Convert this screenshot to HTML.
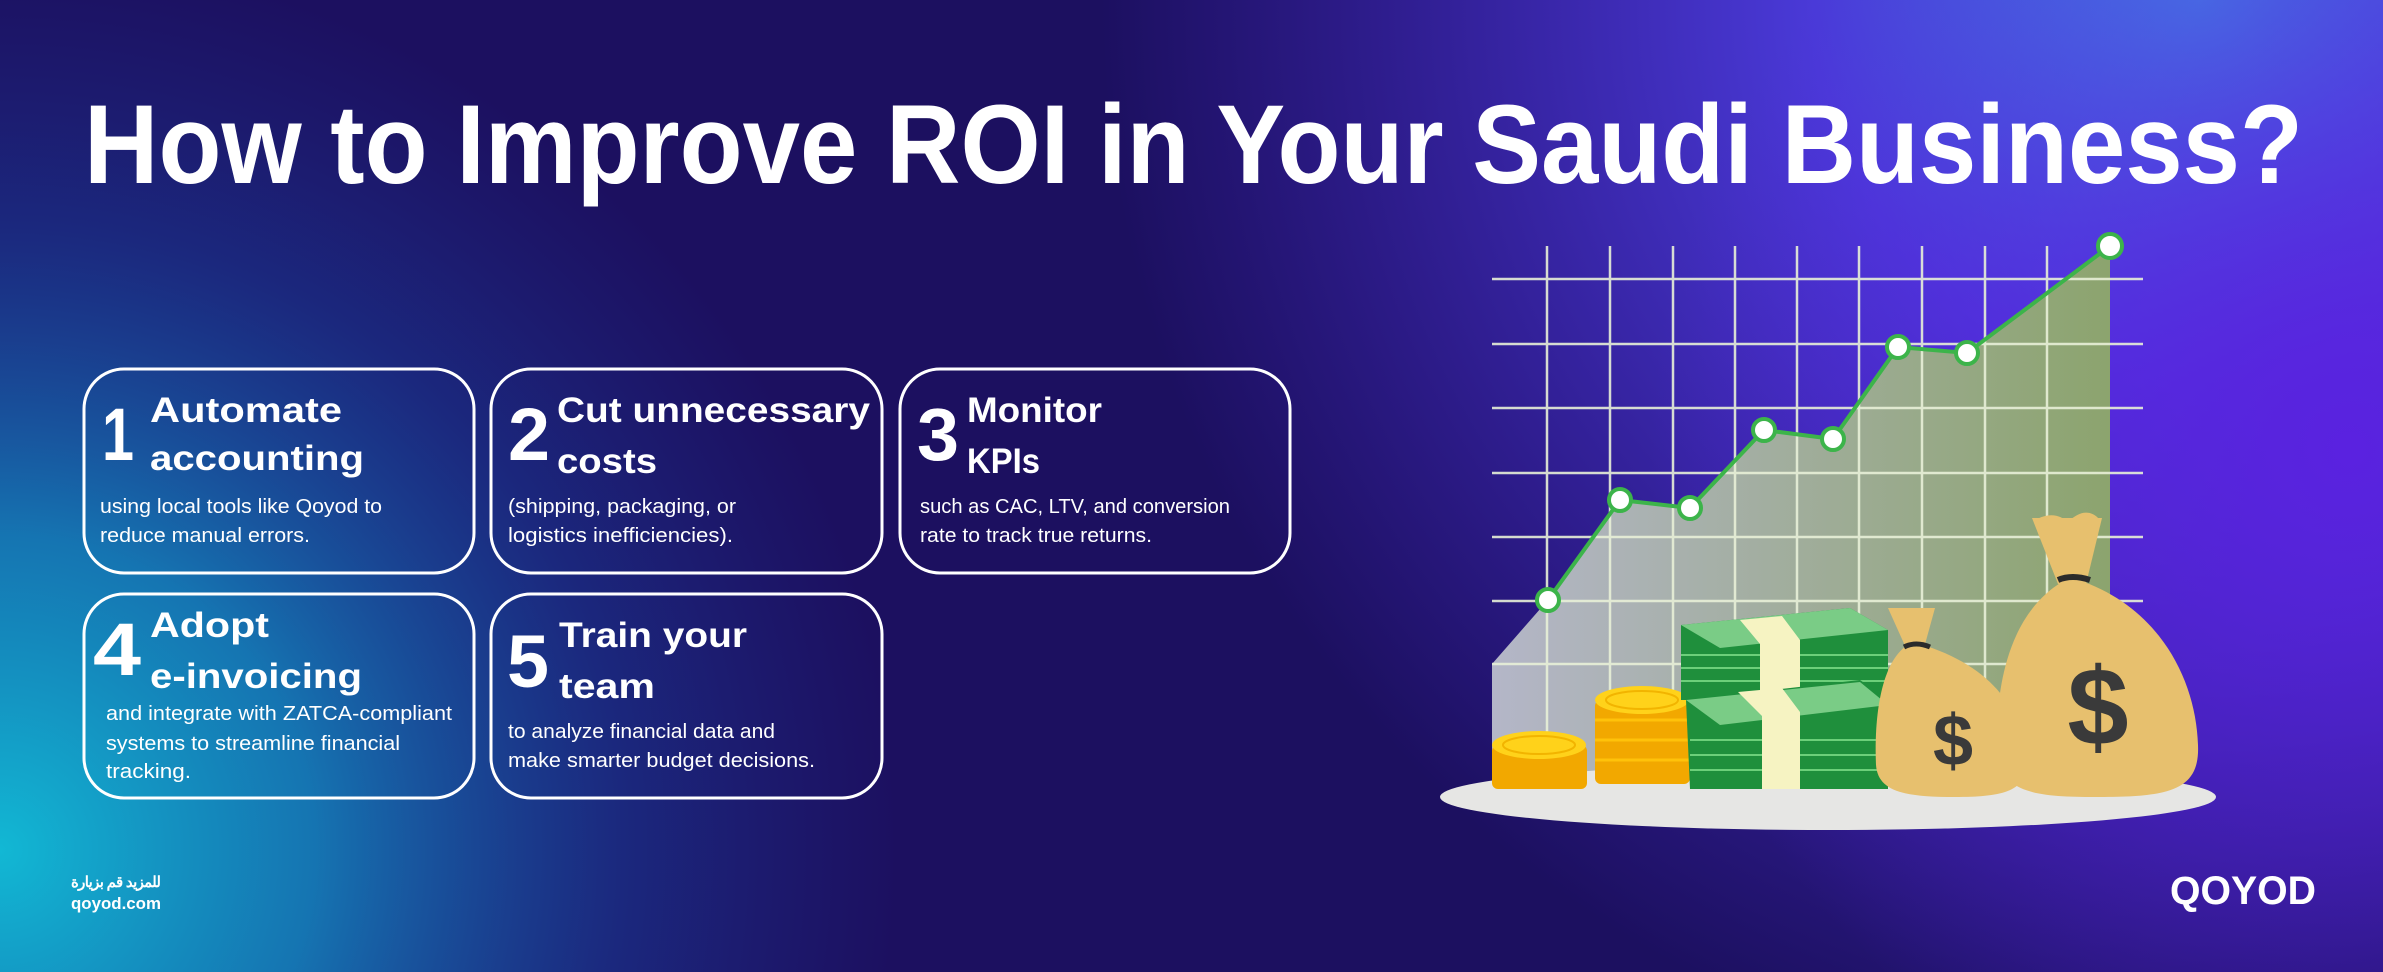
<!DOCTYPE html>
<html><head><meta charset="utf-8"><style>
html,body{margin:0;padding:0;width:2383px;height:972px;overflow:hidden;background:#1a0f5c}
svg{display:block}
</style></head><body>
<svg width="2383" height="972" viewBox="0 0 2383 972" xmlns="http://www.w3.org/2000/svg">
<defs>
<radialGradient id="g1" cx="2200" cy="0" r="1100" gradientUnits="userSpaceOnUse">
<stop offset="0" stop-color="#3f86e4"/><stop offset="0.35" stop-color="#4a3ad8"/><stop offset="1" stop-color="#4a2ad0" stop-opacity="0"/></radialGradient>
<radialGradient id="g2" cx="2350" cy="450" r="700" gradientUnits="userSpaceOnUse">
<stop offset="0" stop-color="#5a22e0"/><stop offset="1" stop-color="#5a22e0" stop-opacity="0"/></radialGradient>
<radialGradient id="g3" cx="0" cy="850" r="900" gradientUnits="userSpaceOnUse">
<stop offset="0" stop-color="#12b8d4"/><stop offset="0.35" stop-color="#1486c0" stop-opacity="0.85"/><stop offset="0.7" stop-color="#1a4aa8" stop-opacity="0.4"/><stop offset="1" stop-color="#1a3aa0" stop-opacity="0"/></radialGradient>
<linearGradient id="fillg" x1="0" x2="1" y1="0" y2="0"><stop offset="0" stop-color="#b4b6c8"/><stop offset="1" stop-color="#8ca46e"/></linearGradient>
</defs>
<rect width="2383" height="972" fill="#1c1060"/>
<rect width="2383" height="972" fill="url(#g1)"/>
<rect width="2383" height="972" fill="url(#g2)"/>
<rect width="2383" height="972" fill="url(#g3)"/>

<g font-family="Liberation Sans, sans-serif" fill="#fff">
<text x="84" y="183" font-size="112" font-weight="bold" textLength="2219" lengthAdjust="spacingAndGlyphs">How to Improve ROI in Your Saudi Business?</text>

<g fill="none" stroke="#fff" stroke-width="3">
<rect x="84" y="369" width="390" height="204" rx="40"/>
<rect x="491" y="369" width="391" height="204" rx="40"/>
<rect x="900" y="369" width="390" height="204" rx="40"/>
<rect x="84" y="594" width="390" height="204" rx="40"/>
<rect x="491" y="594" width="391" height="204" rx="40"/>
</g>

<g font-weight="bold" font-size="74">
<text x="102" y="460" textLength="32" lengthAdjust="spacingAndGlyphs">1</text>
<text x="508" y="460" textLength="42" lengthAdjust="spacingAndGlyphs">2</text>
<text x="917" y="460" textLength="42" lengthAdjust="spacingAndGlyphs">3</text>
<text x="93" y="675" textLength="48" lengthAdjust="spacingAndGlyphs">4</text>
<text x="507" y="687" textLength="42" lengthAdjust="spacingAndGlyphs">5</text>
</g>
<g font-weight="bold" font-size="35">
<text x="150" y="422" textLength="192" lengthAdjust="spacingAndGlyphs">Automate</text>
<text x="150" y="470" textLength="214" lengthAdjust="spacingAndGlyphs">accounting</text>
<text x="557" y="422" textLength="313" lengthAdjust="spacingAndGlyphs">Cut unnecessary</text>
<text x="557" y="473" textLength="100" lengthAdjust="spacingAndGlyphs">costs</text>
<text x="967" y="422" textLength="135" lengthAdjust="spacingAndGlyphs">Monitor</text>
<text x="967" y="473" textLength="73" lengthAdjust="spacingAndGlyphs">KPIs</text>
<text x="150" y="637" textLength="119" lengthAdjust="spacingAndGlyphs">Adopt</text>
<text x="150" y="688" textLength="212" lengthAdjust="spacingAndGlyphs">e-invoicing</text>
<text x="559" y="647" textLength="188" lengthAdjust="spacingAndGlyphs">Train your</text>
<text x="559" y="698" textLength="96" lengthAdjust="spacingAndGlyphs">team</text>
</g>
<g font-size="20">
<text x="100" y="513" textLength="282" lengthAdjust="spacingAndGlyphs">using local tools like Qoyod to</text>
<text x="100" y="542" textLength="210" lengthAdjust="spacingAndGlyphs">reduce manual errors.</text>
<text x="508" y="513" textLength="228" lengthAdjust="spacingAndGlyphs">(shipping, packaging, or</text>
<text x="508" y="542" textLength="225" lengthAdjust="spacingAndGlyphs">logistics inefficiencies).</text>
<text x="920" y="513" textLength="310" lengthAdjust="spacingAndGlyphs">such as CAC, LTV, and conversion</text>
<text x="920" y="542" textLength="232" lengthAdjust="spacingAndGlyphs">rate to track true returns.</text>
<text x="106" y="720" textLength="346" lengthAdjust="spacingAndGlyphs">and integrate with ZATCA-compliant</text>
<text x="106" y="750" textLength="294" lengthAdjust="spacingAndGlyphs">systems to streamline financial</text>
<text x="106" y="778" textLength="85" lengthAdjust="spacingAndGlyphs">tracking.</text>
<text x="508" y="738" textLength="267" lengthAdjust="spacingAndGlyphs">to analyze financial data and</text>
<text x="508" y="767" textLength="307" lengthAdjust="spacingAndGlyphs">make smarter budget decisions.</text>
</g>
<text x="71" y="887" font-size="15" font-weight="bold" font-family="Liberation Sans, Noto Sans CJK SC, sans-serif" direction="rtl" text-anchor="end" textLength="90">للمزيد قم بزيارة</text>
<text x="71" y="909" font-size="17" font-weight="bold" textLength="90" lengthAdjust="spacingAndGlyphs">qoyod.com</text>
<text x="2170" y="904" font-size="40" font-weight="bold" textLength="146" lengthAdjust="spacingAndGlyphs">QOYOD</text>
</g>

<!-- chart -->
<polygon points="1492,664 1548,600 1620,500 1690,508 1764,430 1833,439 1898,347 1967,353 2110,246 2110,780 1492,780" fill="url(#fillg)"/>
<g stroke="#e8f0d8" stroke-width="2.5" opacity="0.9">
<line x1="1492" y1="279" x2="2143" y2="279"/><line x1="1492" y1="344" x2="2143" y2="344"/>
<line x1="1492" y1="408" x2="2143" y2="408"/><line x1="1492" y1="473" x2="2143" y2="473"/>
<line x1="1492" y1="537" x2="2143" y2="537"/><line x1="1492" y1="601" x2="2143" y2="601"/>
<line x1="1492" y1="664" x2="2110" y2="664"/>
<line x1="1547" y1="246" x2="1547" y2="780"/><line x1="1610" y1="246" x2="1610" y2="780"/>
<line x1="1673" y1="246" x2="1673" y2="780"/><line x1="1735" y1="246" x2="1735" y2="780"/>
<line x1="1797" y1="246" x2="1797" y2="780"/><line x1="1859" y1="246" x2="1859" y2="780"/>
<line x1="1922" y1="246" x2="1922" y2="780"/><line x1="1985" y1="246" x2="1985" y2="780"/>
<line x1="2047" y1="246" x2="2047" y2="780"/>
</g>
<polyline points="1548,600 1620,500 1690,508 1764,430 1833,439 1898,347 1967,353 2110,246" fill="none" stroke="#3cb44a" stroke-width="4"/>
<g fill="#fff" stroke="#3cb44a" stroke-width="4">
<circle cx="1548" cy="600" r="11"/><circle cx="1620" cy="500" r="11"/><circle cx="1690" cy="508" r="11"/>
<circle cx="1764" cy="430" r="11"/><circle cx="1833" cy="439" r="11"/><circle cx="1898" cy="347" r="11"/>
<circle cx="1967" cy="353" r="11"/><circle cx="2110" cy="246" r="12"/>
</g>
<ellipse cx="1828" cy="797" rx="388" ry="33" fill="#e6e6e4"/>

<!-- coins -->
<g>
<rect x="1492" y="745" width="95" height="44" rx="6" fill="#f2a800"/>
<ellipse cx="1539" cy="745" rx="47" ry="14" fill="#ffd21a"/>
<ellipse cx="1539" cy="745" rx="36" ry="9" fill="none" stroke="#f2b400" stroke-width="2"/>
<rect x="1595" y="700" width="95" height="84" rx="6" fill="#f2a800"/>
<g stroke="#ffc20a" stroke-width="3"><line x1="1595" y1="720" x2="1690" y2="720"/><line x1="1595" y1="740" x2="1690" y2="740"/><line x1="1595" y1="760" x2="1690" y2="760"/></g>
<ellipse cx="1642" cy="700" rx="47" ry="14" fill="#ffd21a"/>
<ellipse cx="1642" cy="700" rx="36" ry="9" fill="none" stroke="#f2b400" stroke-width="2"/>
</g>
<!-- cash -->
<g>
<polygon points="1681,625 1850,608 1888,630 1888,700 1681,700" fill="#1f8f3c"/>
<g stroke="#6ccf7a" stroke-width="2"><line x1="1681" y1="655" x2="1888" y2="655"/><line x1="1681" y1="668" x2="1888" y2="668"/><line x1="1681" y1="681" x2="1888" y2="681"/></g>
<polygon points="1681,625 1850,608 1888,630 1720,648" fill="#7acc86"/>
<polygon points="1740,620 1782,616 1800,640 1800,700 1760,700 1760,644" fill="#f6f3c2"/>
<polygon points="1686,700 1860,680 1888,700 1888,789 1690,789" fill="#1f8f3c"/>
<g stroke="#6ccf7a" stroke-width="2"><line x1="1690" y1="740" x2="1888" y2="740"/><line x1="1690" y1="755" x2="1888" y2="755"/><line x1="1690" y1="770" x2="1888" y2="770"/></g>
<polygon points="1686,700 1860,682 1888,705 1720,725" fill="#7acc86"/>
<polygon points="1738,692 1782,688 1800,712 1800,789 1762,789 1762,716" fill="#f6f3c2"/>
</g>
<!-- bags -->
<g>
<path d="M2035,520 C2050,512 2060,515 2068,522 C2078,512 2090,508 2100,520 C2095,545 2088,565 2082,582 Z M2035,520 L2062,582 L2082,582" fill="#e7c06e"/>
<path d="M2032,518 L2102,518 L2086,584 L2058,584 Z" fill="#e7c06e"/>
<path d="M2062,582 C2012,612 1995,680 1997,750 C1999,795 2040,797 2100,797 C2170,797 2200,790 2198,745 C2196,680 2160,610 2084,582 Z" fill="#e7c06e"/>
<path d="M2058,580 Q2072,574 2090,580" stroke="#2b2b2b" stroke-width="6" fill="none"/>
<text x="2098" y="745" font-family="Liberation Sans, sans-serif" font-weight="bold" font-size="110" fill="#3a3a3a" text-anchor="middle">$</text>
<path d="M1888,608 L1935,608 L1924,648 L1906,648 Z" fill="#e7c06e"/>
<path d="M1906,646 C1880,665 1874,720 1876,765 C1878,792 1905,797 1955,797 C2000,797 2026,792 2026,765 C2026,720 2000,670 1926,646 Z" fill="#e7c06e"/>
<path d="M1904,647 Q1916,641 1930,647" stroke="#2b2b2b" stroke-width="5" fill="none"/>
<text x="1953" y="765" font-family="Liberation Sans, sans-serif" font-weight="bold" font-size="72" fill="#3a3a3a" text-anchor="middle">$</text>
</g>
</svg>
</body></html>
